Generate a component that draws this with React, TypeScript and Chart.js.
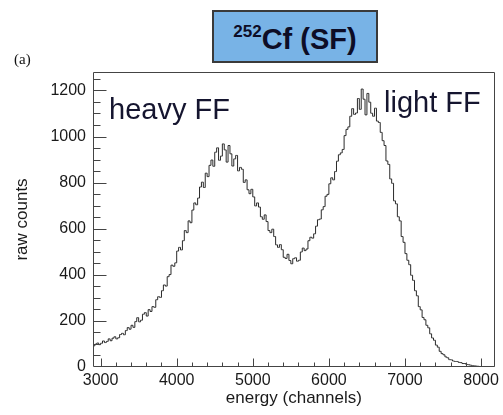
import React, { useEffect, useRef } from 'react';
import { Chart, registerables } from 'chart.js';

Chart.register(...registerables);

// Histogram binning (channels)
const BIN_START = 2900;
const BIN_WIDTH = 25;

// Raw counts per bin
const countsLowTail = [
  92, 99, 104, 97, 103, 113, 106, 111, 122, 114,
  125, 131, 122, 127, 141, 146, 140, 158, 171, 164,
];
const countsHeavyRise = [
  181, 172, 197, 214, 196, 203, 229, 236, 221, 249,
  241, 262, 259, 292, 305, 302, 331, 356, 351, 392,
  401, 442, 437, 452, 503, 519, 508, 548, 592, 583,
  634, 626, 681, 712, 704, 733, 781, 802, 779, 841,
];
const countsHeavyPeak = [
  826, 875, 898, 871, 932, 951, 897, 915, 968, 942,
  889, 961, 925, 872, 903, 918, 851, 866, 858, 801,
];
const countsValley = [
  812, 769, 752, 771, 738, 699, 712, 694, 652, 641,
  660, 631, 592, 583, 598, 566, 530, 519, 531, 509,
  476, 471, 489, 462, 448, 470, 474, 459, 463, 499,
  516, 505, 512, 548, 563, 559, 578, 611, 639, 642,
];
const countsLightRise = [
  682, 696, 741, 749, 795, 821, 812, 848, 893, 921,
  929, 944, 1004, 1031, 1042, 1088, 1121, 1096, 1102, 1165,
];
const countsLightPeak = [
  1118, 1206, 1162, 1094, 1187, 1149, 1101, 1088, 1123, 1067,
  1061, 1018, 982, 961, 894, 879, 816, 797, 721, 708,
];
const countsHighTail = [
  652, 634, 566, 541, 492, 463, 444, 398, 376, 331,
  309, 262, 248, 215, 205, 181, 170, 144, 126, 116,
  95, 86, 68, 58, 53, 44, 40, 32, 31, 26,
  24, 24, 20, 19, 15, 15, 11, 10, 8, 6,
  5, 4, 3, 2, 1, 1, 0, 1, 0, 0, 0, 0,
];

// Axes
const X_MIN = 2900;
const X_MAX = 8180;
const X_MAJOR = 1000;
const X_MINOR = 200;
const Y_MIN = 0;
const Y_MAX = 1280;
const Y_MAJOR = 200;
const Y_MINOR = 50;

const SANS = '"Liberation Sans", Arial, Helvetica, sans-serif';

const frameTicksPlugin = {
  id: 'frameTicks',
  afterDatasetsDraw(chart: any) {
    const { ctx, chartArea: a, scales } = chart;
    ctx.save();
    ctx.strokeStyle = '#444';
    ctx.lineWidth = 1;
    const L = Math.round(a.left) + 0.5;
    const R = Math.round(a.right) - 0.5;
    const T = Math.round(a.top) + 0.5;
    const B = Math.round(a.bottom) - 0.5;
    ctx.beginPath();
    ctx.rect(L, T, R - L, B - T);
    ctx.stroke();
    ctx.beginPath();
    for (const t of scales.x.ticks) {
      if (t.value % X_MINOR !== 0) continue;
      const px = Math.round(scales.x.getPixelForValue(t.value)) + 0.5;
      const len = t.value % X_MAJOR === 0 ? 8 : 4;
      ctx.moveTo(px, B);
      ctx.lineTo(px, B - len);
    }
    for (const t of scales.y.ticks) {
      if (t.value % Y_MINOR !== 0 || t.value === Y_MIN) continue;
      const py = Math.round(scales.y.getPixelForValue(t.value)) + 0.5;
      const len = t.value % Y_MAJOR === 0 ? 13 : 7;
      ctx.moveTo(L, py);
      ctx.lineTo(L + len, py);
    }
    ctx.stroke();
    ctx.restore();
  },
};

export default function App() {
  const ref = useRef<HTMLCanvasElement>(null);

  useEffect(() => {
    const counts = [
      ...countsLowTail,
      ...countsHeavyRise,
      ...countsHeavyPeak,
      ...countsValley,
      ...countsLightRise,
      ...countsLightPeak,
      ...countsHighTail,
    ];
    const points = counts.map((c, i) => ({ x: BIN_START + (i + 0.5) * BIN_WIDTH, y: c }));

    const chart = new Chart(ref.current as HTMLCanvasElement, {
      type: 'line',
      data: {
        datasets: [
          {
            data: points,
            borderColor: '#2a2a2a',
            borderWidth: 1,
            pointRadius: 0,
            stepped: 'middle',
            fill: false,
          },
        ],
      },
      options: {
        animation: false,
        responsive: false,
        devicePixelRatio: 1,
        events: [],
        layout: { padding: { left: 0, top: 72, right: 4, bottom: 0 } },
        plugins: { legend: { display: false }, tooltip: { enabled: false } },
        scales: {
          x: {
            type: 'linear',
            min: X_MIN,
            max: X_MAX,
            afterFit: (s: any) => {
              s.height = 48;
            },
            grid: { display: false, drawTicks: false },
            border: { display: false },
            ticks: {
              stepSize: X_MINOR,
              includeBounds: false,
              autoSkip: false,
              maxRotation: 0,
              padding: 4,
              color: '#1a1a1a',
              font: { family: SANS, size: 16 },
              callback: (v: any) => (Number(v) % X_MAJOR === 0 ? String(v) : ''),
            },
            title: {
              display: true,
              text: 'energy (channels)',
              color: '#1a1a1a',
              font: { family: SANS, size: 17 },
              padding: { top: 0, bottom: 6 },
            },
          },
          y: {
            type: 'linear',
            min: Y_MIN,
            max: Y_MAX,
            afterFit: (s: any) => {
              s.width = 93;
            },
            grid: { display: false, drawTicks: false },
            border: { display: false },
            ticks: {
              stepSize: Y_MINOR,
              includeBounds: false,
              autoSkip: false,
              padding: 7,
              color: '#1a1a1a',
              font: { family: SANS, size: 16 },
              callback: (v: any) => (Number(v) % Y_MAJOR === 0 ? String(v) : ''),
            },
            title: {
              display: true,
              text: 'raw counts',
              color: '#1a1a1a',
              font: { family: SANS, size: 17 },
              padding: { top: 12, bottom: 0 },
            },
          },
        },
      },
      plugins: [frameTicksPlugin],
    });
    return () => chart.destroy();
  }, []);

  const navy = '#15152f';

  return (
    <div
      style={{
        position: 'fixed',
        left: 0,
        top: 0,
        width: 503,
        height: 415,
        background: '#fff',
        overflow: 'hidden',
      }}
    >
      <canvas
        ref={ref}
        width={503}
        height={415}
        style={{ position: 'absolute', left: 0, top: 0, width: 503, height: 415 }}
      />
      <div
        style={{
          position: 'absolute',
          left: 14,
          top: 52,
          fontFamily: '"Liberation Serif", "Times New Roman", serif',
          fontSize: 15,
          lineHeight: '15px',
          color: '#111',
          whiteSpace: 'nowrap',
        }}
      >
        (a)
      </div>
      <div
        style={{
          position: 'absolute',
          left: 212,
          top: 10,
          width: 166,
          height: 53,
          boxSizing: 'border-box',
          border: '2px solid #3a3a3a',
          background: '#78b3e6',
        }}
      />
      <div
        style={{
          position: 'absolute',
          left: 212,
          top: 25,
          width: 166,
          textAlign: 'center',
          fontFamily: SANS,
          fontWeight: 'bold',
          fontSize: 29,
          lineHeight: '29px',
          color: '#0d0d26',
          whiteSpace: 'nowrap',
        }}
      >
        <span style={{ fontSize: 17, position: 'relative', top: -12 }}>252</span>Cf (SF)
      </div>
      <div
        style={{
          position: 'absolute',
          left: 109,
          top: 95,
          fontFamily: SANS,
          fontSize: 29,
          lineHeight: '29px',
          color: navy,
          whiteSpace: 'nowrap',
        }}
      >
        heavy FF
      </div>
      <div
        style={{
          position: 'absolute',
          left: 384,
          top: 88,
          fontFamily: SANS,
          fontSize: 29,
          lineHeight: '29px',
          color: navy,
          whiteSpace: 'nowrap',
        }}
      >
        light FF
      </div>
    </div>
  );
}
